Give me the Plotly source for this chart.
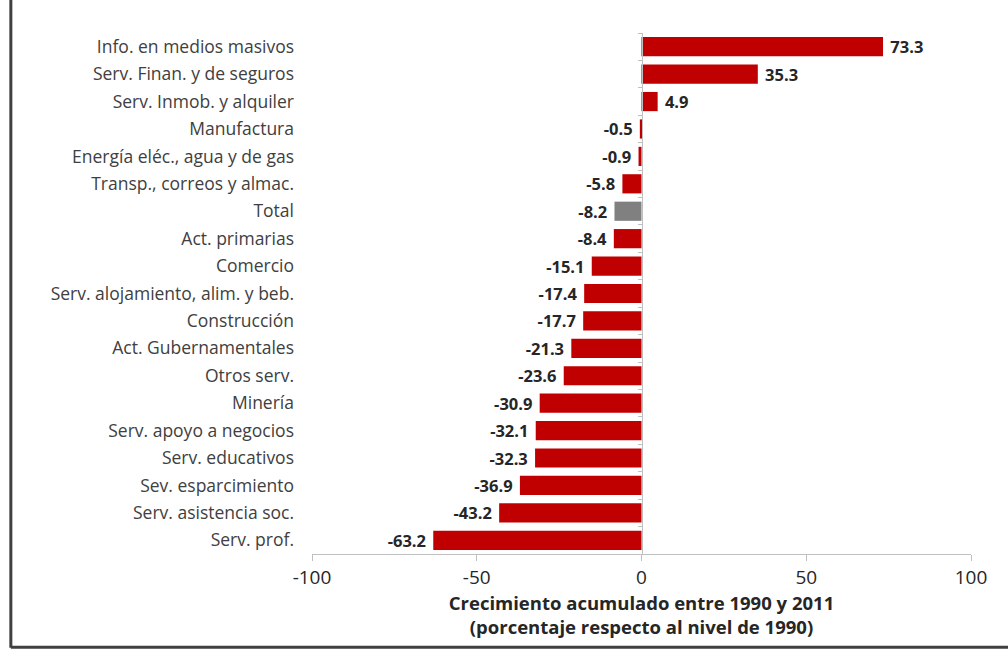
import plotly.graph_objects as go

categories = ["Info. en medios masivos", "Serv. Finan. y de seguros", "Serv. Inmob. y alquiler",
              "Manufactura", "Energía eléc., agua y de gas", "Transp., correos y almac.",
              "Total", "Act. primarias", "Comercio", "Serv. alojamiento, alim. y beb.",
              "Construcción", "Act. Gubernamentales", "Otros serv.", "Minería",
              "Serv. apoyo a negocios", "Serv. educativos", "Sev. esparcimiento",
              "Serv. asistencia soc.", "Serv. prof."]
values = [73.3, 35.3, 4.9, -0.5, -0.9, -5.8, -8.2, -8.4, -15.1, -17.4, -17.7,
          -21.3, -23.6, -30.9, -32.1, -32.3, -36.9, -43.2, -63.2]
x_ticks = [-100, -50, 0, 50, 100]
x_tick_labels = ["-100", "-50", "0", "50", "100"]

colors = ["#808080" if c == "Total" else "#C00000" for c in categories]
font = "Open Sans, sans-serif"
n = len(categories)
pad = "\u00a0"
labels = [f"<b>{pad}{v:.1f}</b>" if v >= 0 else f"<b>{v:.1f}{pad}</b>" for v in values]

fig = go.Figure()
fig.add_trace(go.Bar(
    y=categories, x=values, orientation="h", width=0.7,
    marker=dict(color=colors, line=dict(width=0)),
    text=labels, textposition="outside", constraintext="none",
    textfont=dict(family=font, size=16.5, color="#262626"), cliponaxis=False,
))
# zero axis with small ticks between categories
fig.add_trace(go.Scatter(x=[0], y=[0], yaxis="y2", mode="markers",
                         marker=dict(opacity=0), hoverinfo="skip", showlegend=False))

fig.update_layout(
    width=1008, height=649,
    margin=dict(l=312, r=37, t=33, b=95),
    paper_bgcolor="white", plot_bgcolor="white",
    showlegend=False, bargap=0.3,
    font=dict(family=font, color="#404040"),
    xaxis=dict(range=[-100, 100], tickvals=x_ticks, ticktext=x_tick_labels,
               showgrid=False, zeroline=False,
               showline=True, linecolor="#BFBFBF", linewidth=1,
               ticks="outside", ticklen=6, tickcolor="#BFBFBF",
               tickfont=dict(size=19, family=font, color="#262626"),
               title=dict(text="<b>Crecimiento acumulado entre 1990 y 2011<br>(porcentaje respecto al nivel de 1990)</b>",
                          font=dict(size=18.5, family=font, color="#262626"), standoff=7)),
    yaxis=dict(type="category", range=[n - 0.5, -0.5], showgrid=False, zeroline=False,
               showline=False, ticks="", tickfont=dict(size=17.5, family=font, color="#404040"),
               ticklabelstandoff=17),
    yaxis2=dict(overlaying="y", anchor="free", position=0.5, range=[n - 0.5, -0.5],
                showgrid=False, zeroline=False, showline=True, linecolor="#BFBFBF",
                linewidth=1, ticks="outside", ticklen=4, tickcolor="#BFBFBF",
                tickvals=[i - 0.5 for i in range(n + 1)], showticklabels=False),
    shapes=[
        dict(type="line", xref="paper", yref="paper", x0=-0.457, x1=-0.457, y0=-0.18, y1=1.07,
             line=dict(color="#404040", width=3)),
        dict(type="line", xref="paper", yref="paper", x0=-0.457, x1=1.06, y0=-0.179, y1=-0.179,
             line=dict(color="#404040", width=3)),
    ],
)

fig.write_html("out.html", config={"displayModeBar": False},
               post_script="document.body.style.margin='0';")
